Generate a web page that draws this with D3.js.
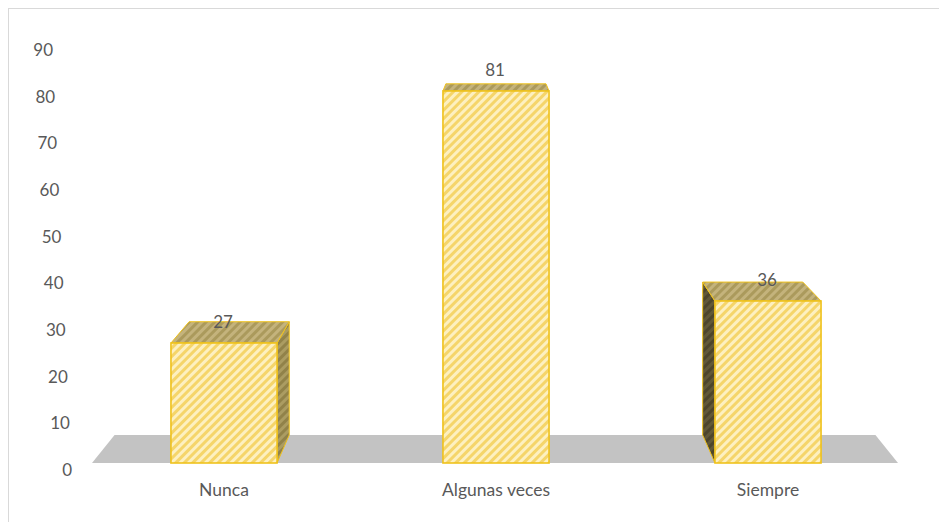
<!DOCTYPE html>
<html>
<head>
<meta charset="utf-8">
<script src="https://cdn.jsdelivr.net/npm/d3@7/dist/d3.min.js"></script>
<style>
  html, body { margin: 0; padding: 0; background: #fff; }
  svg { display: block; }
  text { font-family: Lato, "Open Sans", sans-serif; fill: #595959; }
</style>
</head>
<body>
<svg id="chart" width="939" height="522"></svg>
<script>
// Responses per category
const categories = ["Nunca", "Algunas veces", "Siempre"];
const values = [27, 81, 36];
const tickValues = [0, 10, 20, 30, 40, 50, 60, 70, 80, 90];

const W = 939, H = 522;
const svg = d3.select("#chart");

// Frame around the chart area
svg.append("rect")
  .attr("x", 8.5).attr("y", 8.5)
  .attr("width", W).attr("height", H)
  .attr("fill", "none").attr("stroke", "#d9d9d9");

// Front plane scales
const y = d3.scaleLinear().domain([0, 90]).range([469, 49]);
const x = d3.scaleBand().domain(categories).range([88, 904])
  .paddingInner(0.61).paddingOuter(0.305);

// Simple one-point perspective: depth 0 = front plane, 1 = back plane
const vanish = { x: 495, y: -37 };
const backScale = 0.944;
function project(px, py, depth) {
  const s = 1 - depth * (1 - backScale);
  return [vanish.x + (px - vanish.x) * s, vanish.y + (py - vanish.y) * s];
}
const floorFront = 463;
const floorLeft = 92, floorRight = 898;

// Hatch patterns
const defs = svg.append("defs");
function hatch(id, base, stripe, width) {
  const p = defs.append("pattern")
    .attr("id", id).attr("patternUnits", "userSpaceOnUse")
    .attr("width", 6).attr("height", 6)
    .attr("patternTransform", "rotate(45)");
  p.append("rect").attr("width", 6).attr("height", 6).attr("fill", base);
  p.append("rect").attr("width", width).attr("height", 6).attr("fill", stripe);
}
hatch("hFront", "#fdf0c0", "#f5d56a", 3);
hatch("hTop", "#c4b37c", "#ab9a5c", 3);
hatch("hSideR", "#ab9c62", "#918249", 3);
hatch("hSideL", "#615838", "#4d452b", 3);

// Floor
const floorPts = [
  [floorLeft, floorFront], [floorRight, floorFront],
  project(floorRight, floorFront, 1), project(floorLeft, floorFront, 1)
];
svg.append("polygon")
  .attr("points", floorPts.map(p => p.join(",")).join(" "))
  .attr("fill", "#c3c3c3");

// Y axis labels, shifted along the perspective edge
const labelX = d3.scaleLinear().domain([0, 90]).range([72, 53]);
const axis = svg.append("g")
  .call(d3.axisLeft(y).tickValues(tickValues).tickSize(0));
axis.select(".domain").remove();
axis.selectAll("text")
  .attr("x", d => labelX(d))
  .attr("dy", "0.38em")
  .style("font-size", "17px")
  .style("font-family", "Lato, 'Open Sans', sans-serif")
  .attr("fill", "#595959");

// Bars
const poly = pts => pts.map(p => p.join(",")).join(" ");
const data = categories.map((c, i) => ({ c, v: values[i] }));
const bars = svg.append("g").selectAll("g").data(data).join("g");

bars.each(function(d) {
  const g = d3.select(this);
  const x0 = x(d.c), x1 = x(d.c) + x.bandwidth();
  const yt = y(d.v), yb = floorFront;
  const cx = (x0 + x1) / 2;
  const stroke = "#efc21c";

  // Side face that faces the vanishing point
  if (x1 < vanish.x - 5) {
    g.append("polygon")
      .attr("points", poly([[x1, yt], project(x1, yt, 1), project(x1, yb, 1), [x1, yb]]))
      .attr("fill", "url(#hSideR)").attr("stroke", stroke).attr("stroke-width", 1);
  } else if (x0 > vanish.x + 5) {
    g.append("polygon")
      .attr("points", poly([[x0, yt], project(x0, yt, 1), project(x0, yb, 1), [x0, yb]]))
      .attr("fill", "url(#hSideL)").attr("stroke", stroke).attr("stroke-width", 1);
  }
  // Top face
  g.append("polygon")
    .attr("points", poly([[x0, yt], [x1, yt], project(x1, yt, 1), project(x0, yt, 1)]))
    .attr("fill", "url(#hTop)").attr("stroke", stroke).attr("stroke-width", 1);
  // Front face
  g.append("rect")
    .attr("x", x0).attr("y", yt)
    .attr("width", x1 - x0).attr("height", yb - yt)
    .attr("fill", "url(#hFront)").attr("stroke", stroke).attr("stroke-width", 1.6);

  // Value label
  g.append("text")
    .attr("x", cx - 1).attr("y", yt - 15)
    .attr("text-anchor", "middle")
    .style("font-size", "17px")
    .text(d.v);
});

// Category labels
svg.append("g").selectAll("text").data(categories).join("text")
  .attr("x", d => x(d) + x.bandwidth() / 2)
  .attr("y", 496)
  .attr("text-anchor", "middle")
  .style("font-size", "17.5px")
  .text(d => d);
</script>
</body>
</html>
